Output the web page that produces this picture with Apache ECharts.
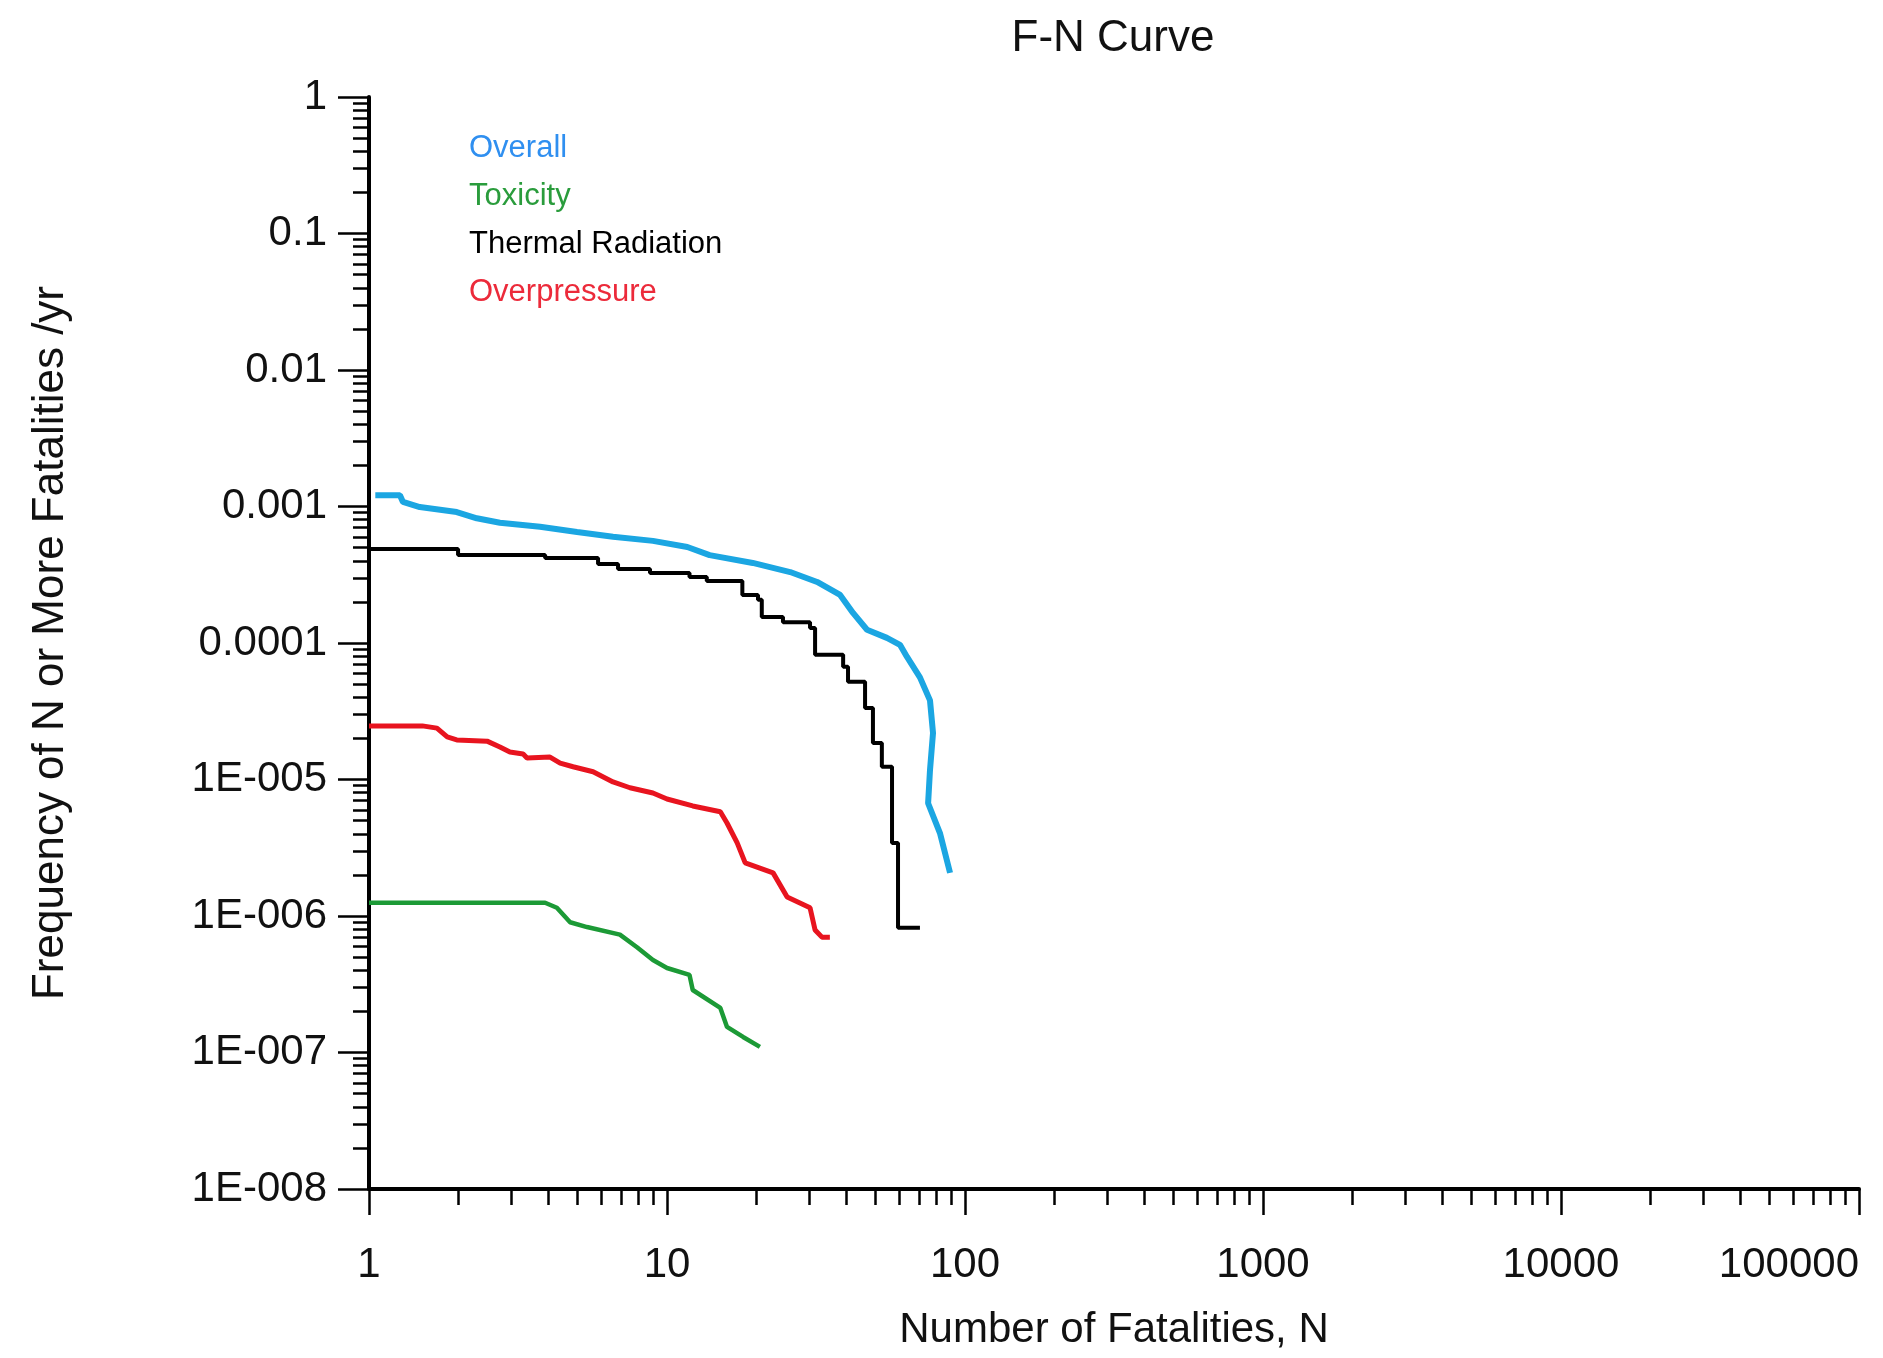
<!DOCTYPE html>
<html>
<head>
<meta charset="utf-8">
<title>F-N Curve</title>
<script src="https://cdn.jsdelivr.net/npm/echarts@6/dist/echarts.min.js"></script>
<style>
html, body { margin: 0; padding: 0; background: #fff; }
#chart { width: 1883px; height: 1358px; }
</style>
</head>
<body>
<div id="chart"></div>
<script>
// F-N curve, values (N = fatalities, F = frequency /yr)
const seriesNames = ['Overall', 'Toxicity', 'Thermal Radiation', 'Overpressure'];
const seriesColors = ['#1ba6e2', '#1c9a36', '#000000', '#e8141f'];
const legendColors = ['#2f8ff0', '#2a9c3c', '#000000', '#ec2a3a'];

const overallN = [1.05, 1.27, 1.30, 1.48, 1.97, 2.30, 2.75, 3.75, 4.99, 6.59, 8.97, 11.7, 13.9, 19.4, 25.9, 31.9, 38.1, 42.1, 46.9, 54.7, 60.5, 63.9, 70.6, 76.3, 78.1, 76.3, 75.2, 82.4, 89.1];
const overallF = [1.21e-3, 1.21e-3, 1.08e-3, 9.9e-4, 9.1e-4, 8.2e-4, 7.6e-4, 7.1e-4, 6.5e-4, 6.0e-4, 5.6e-4, 5.05e-4, 4.4e-4, 3.86e-4, 3.31e-4, 2.8e-4, 2.25e-4, 1.66e-4, 1.25e-4, 1.09e-4, 9.7e-5, 7.9e-5, 5.6e-5, 3.8e-5, 2.19e-5, 1.17e-5, 6.7e-6, 4.05e-6, 2.07e-6];

const toxicN = [1.0, 3.90, 4.27, 4.73, 5.39, 6.95, 7.93, 8.97, 10.0, 11.9, 12.2, 15.1, 15.9, 18.0, 20.5];
const toxicF = [1.25e-6, 1.25e-6, 1.15e-6, 9.0e-7, 8.3e-7, 7.3e-7, 5.9e-7, 4.76e-7, 4.16e-7, 3.7e-7, 2.87e-7, 2.12e-7, 1.54e-7, 1.3e-7, 1.1e-7];

// step levels: frequency F holds from N until the next N
const thermalN = [1.0, 1.99, 3.90, 5.87, 6.85, 8.77, 11.9, 13.6, 17.9, 20.2, 20.8, 24.5, 30.2, 31.4, 39.0, 40.5, 46.2, 49.1, 52.6, 56.9, 59.6, 70.6];
const thermalF = [4.89e-4, 4.41e-4, 4.19e-4, 3.79e-4, 3.48e-4, 3.26e-4, 3.05e-4, 2.85e-4, 2.25e-4, 2.07e-4, 1.55e-4, 1.42e-4, 1.29e-4, 8.2e-5, 6.7e-5, 5.2e-5, 3.34e-5, 1.85e-5, 1.24e-5, 3.43e-6, 8.2e-7, 8.2e-7];

const overpN = [1.0, 1.51, 1.69, 1.83, 1.97, 2.49, 2.75, 2.97, 3.29, 3.39, 4.05, 4.38, 4.84, 5.65, 6.59, 7.51, 8.97, 10.0, 12.2, 15.1, 15.9, 17.2, 18.3, 22.7, 25.3, 30.2, 31.4, 33.1, 35.2];
const overpF = [2.47e-5, 2.47e-5, 2.38e-5, 2.05e-5, 1.95e-5, 1.91e-5, 1.73e-5, 1.59e-5, 1.54e-5, 1.44e-5, 1.46e-5, 1.32e-5, 1.24e-5, 1.14e-5, 9.6e-6, 8.7e-6, 7.96e-6, 7.2e-6, 6.4e-6, 5.8e-6, 4.8e-6, 3.43e-6, 2.45e-6, 2.07e-6, 1.38e-6, 1.15e-6, 7.9e-7, 7.0e-7, 7.0e-7];

const xTicks = [1, 10, 100, 1000, 10000, 100000];
const xTickLabels = ['1', '10', '100', '1000', '10000', '100000'];
const yTicks = [1e-8, 1e-7, 1e-6, 1e-5, 1e-4, 1e-3, 1e-2, 1e-1, 1];
const yTickLabels = ['1E-008', '1E-007', '1E-006', '1E-005', '0.0001', '0.001', '0.01', '0.1', '1'];

// minor ticks at 2..9 of every decade
function minorTicks(decades) {
    const out = [];
    decades.slice(0, -1).forEach(d => { for (let k = 2; k <= 9; k++) out.push(+(d * k).toPrecision(3)); });
    return out;
}
const xMinor = minorTicks(xTicks);
const yMinor = minorTicks(yTicks);

function zip(a, b) { return a.map((v, i) => [v, b[i]]); }
function labelFor(ticks, labels) {
    return v => {
        const i = ticks.findIndex(t => Math.abs(Math.log10(t) - Math.log10(v)) < 1e-6);
        return i >= 0 ? labels[i] : '';
    };
}

const FONT = "'Liberation Sans', Arial, sans-serif";
const chart = echarts.init(document.getElementById('chart'));

const baseX = { type: 'log', logBase: 10, min: 1, max: 100000, splitNumber: 5, gridIndex: 0, position: 'bottom', splitLine: { show: false } };
const baseY = { type: 'log', logBase: 10, min: 1e-8, max: 1, splitNumber: 8, gridIndex: 0, position: 'left', splitLine: { show: false } };

const option = {
    backgroundColor: '#fff',
    animation: false,
    title: {
        text: 'F-N Curve', left: 1108, top: 12, textAlign: 'center',
        textStyle: { fontFamily: FONT, fontSize: 44, fontWeight: 'normal', color: '#111' }
    },
    legend: {
        orient: 'vertical', left: 459, top: 128, itemGap: 17, icon: 'none', itemWidth: 0, itemHeight: 30,
        selectedMode: false,
        textStyle: { fontFamily: FONT, fontSize: 31 },
        data: seriesNames.map((n, i) => ({ name: n, textStyle: { color: legendColors[i] } }))
    },
    grid: { left: 369, right: 24, top: 97, bottom: 169, containLabel: false, outerBoundsMode: 'none' },
    xAxis: [
        Object.assign({}, baseX, {
            name: 'Number of Fatalities, N', nameLocation: 'middle', nameGap: 120,
            nameTextStyle: { fontFamily: FONT, fontSize: 42, color: '#111' },
            axisLine: { show: true, lineStyle: { color: '#000', width: 4 } },
            axisTick: { show: true, length: 26, lineStyle: { color: '#000', width: 2.5 } },
            axisLabel: { margin: 55, fontFamily: FONT, fontSize: 42, color: '#111', alignMaxLabel: 'right', formatter: labelFor(xTicks, xTickLabels) }
        }),
        Object.assign({}, baseX, {
            axisLine: { show: false },
            axisTick: { show: true, length: 16, customValues: xMinor, lineStyle: { color: '#000', width: 2.5 } },
            axisLabel: { show: false }
        })
    ],
    yAxis: [
        Object.assign({}, baseY, {
            name: 'Frequency of N or More Fatalities /yr', nameLocation: 'middle', nameGap: 296,
            nameTextStyle: { fontFamily: FONT, fontSize: 44, color: '#111' },
            axisLine: { show: true, lineStyle: { color: '#000', width: 4 } },
            axisTick: { show: true, length: 31, lineStyle: { color: '#000', width: 2.5 } },
            axisLabel: { margin: 42, fontFamily: FONT, fontSize: 42, color: '#111', formatter: labelFor(yTicks, yTickLabels) }
        }),
        Object.assign({}, baseY, {
            axisLine: { show: false },
            axisTick: { show: true, length: 16, customValues: yMinor, lineStyle: { color: '#000', width: 2.5 } },
            axisLabel: { show: false }
        })
    ],
    series: [
        { name: seriesNames[0], type: 'line', data: zip(overallN, overallF), showSymbol: false, lineStyle: { width: 6, color: seriesColors[0] }, itemStyle: { color: seriesColors[0] } },
        { name: seriesNames[1], type: 'line', data: zip(toxicN, toxicF), showSymbol: false, lineStyle: { width: 4.5, color: seriesColors[1] }, itemStyle: { color: seriesColors[1] } },
        { name: seriesNames[2], type: 'line', step: 'end', data: zip(thermalN, thermalF), showSymbol: false, lineStyle: { width: 4, color: seriesColors[2] }, itemStyle: { color: seriesColors[2] } },
        { name: seriesNames[3], type: 'line', data: zip(overpN, overpF), showSymbol: false, lineStyle: { width: 5, color: seriesColors[3] }, itemStyle: { color: seriesColors[3] } }
    ]
};
chart.setOption(option);
window.addEventListener('resize', () => chart.resize());
</script>
</body>
</html>
